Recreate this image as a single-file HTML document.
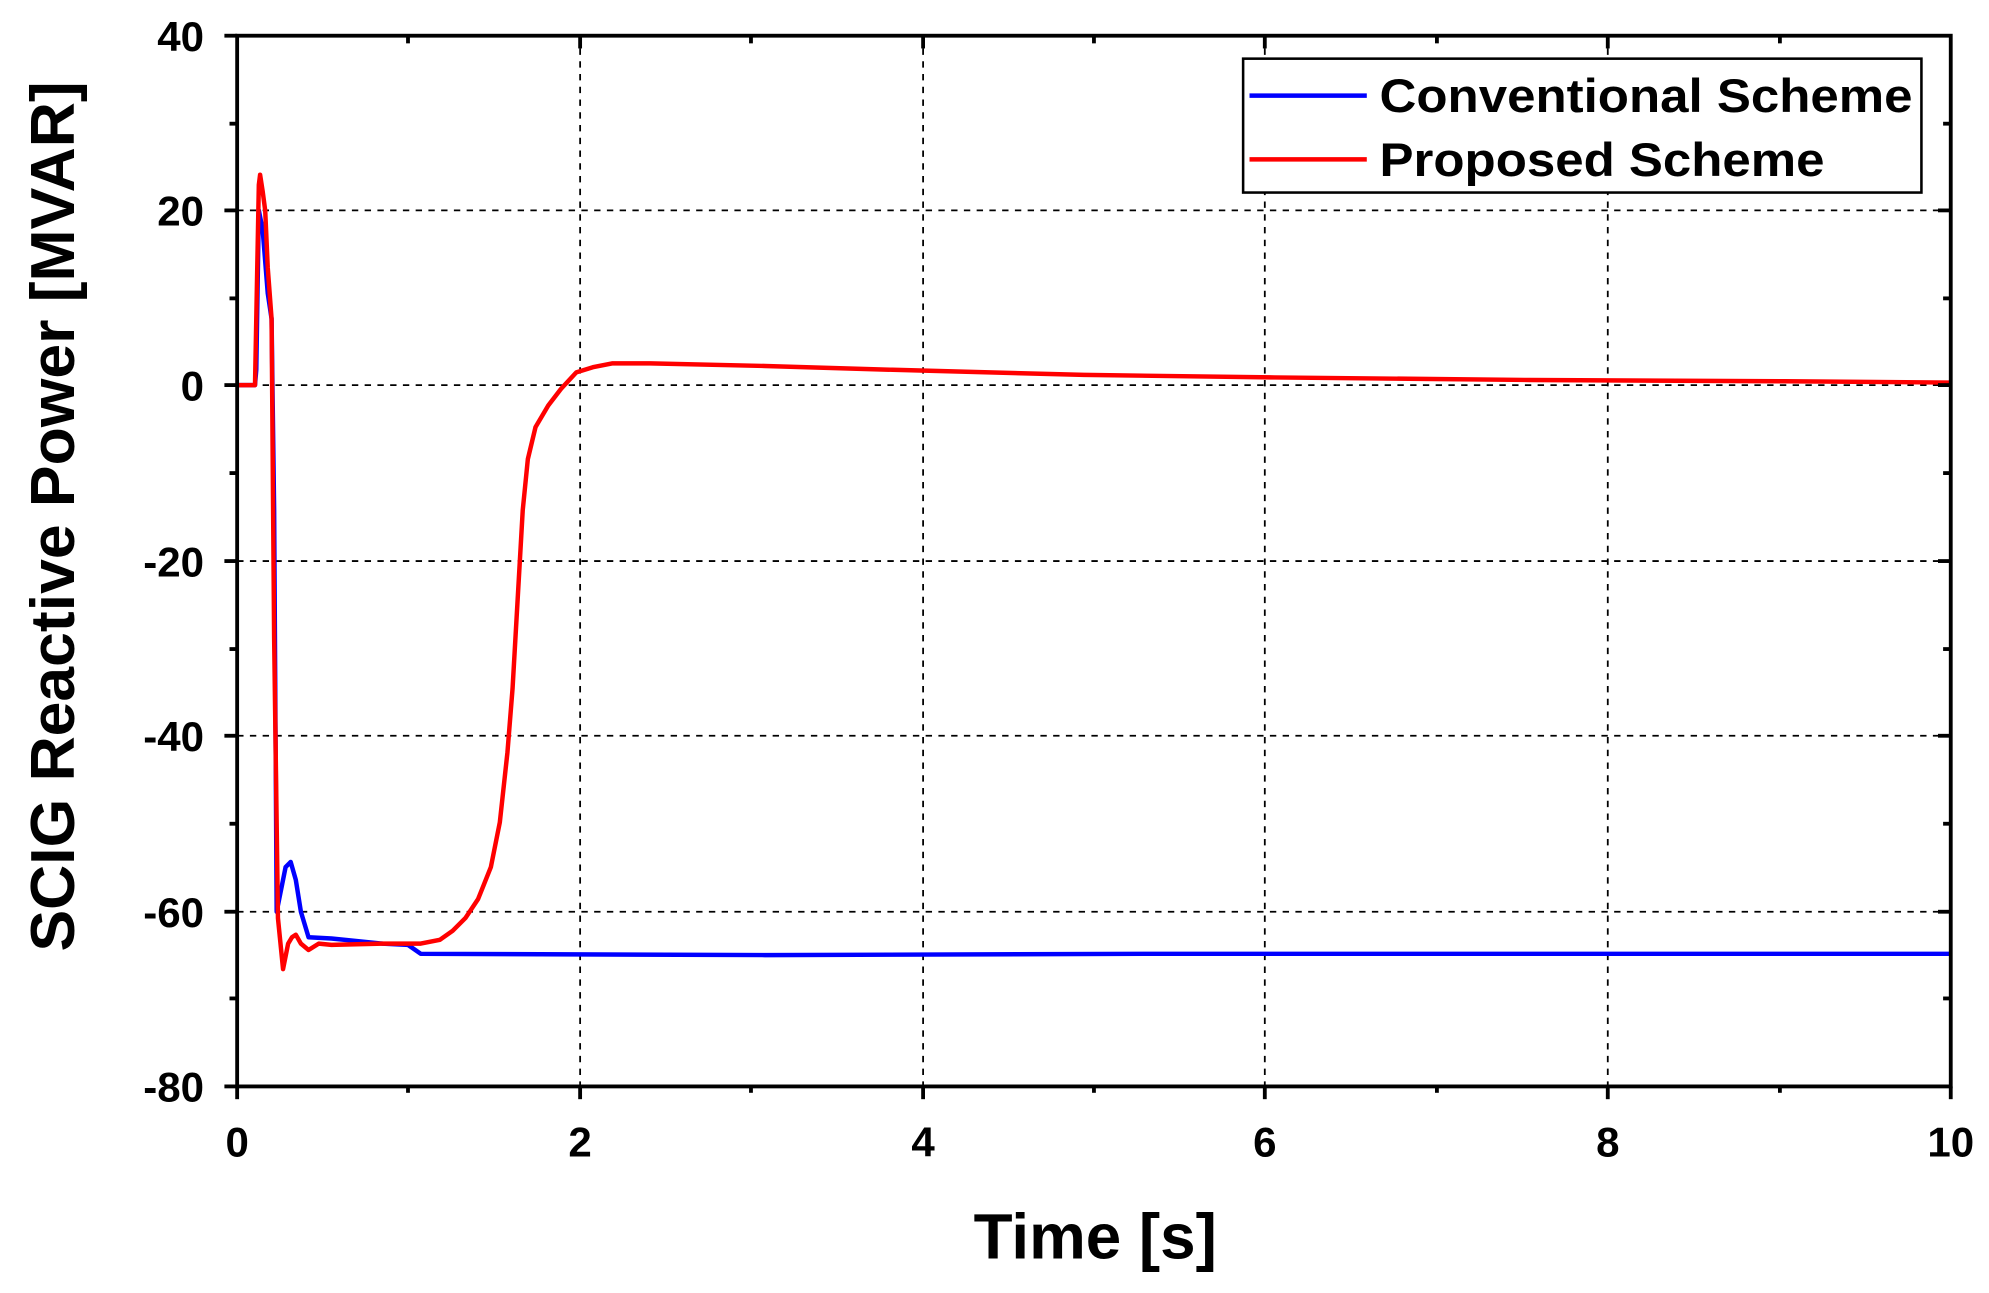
<!DOCTYPE html>
<html><head><meta charset="utf-8"><style>html,body{margin:0;padding:0;background:#fff}svg{display:block}</style></head>
<body>
<svg width="1989" height="1293" viewBox="0 0 1560 1014" preserveAspectRatio="none" xmlns="http://www.w3.org/2000/svg" font-family="Liberation Sans, sans-serif" font-weight="bold">
<g stroke="#000" stroke-width="1.4" stroke-dasharray="5,5">
<line x1="186" y1="165" x2="1530" y2="165"/><line x1="186" y1="302" x2="1530" y2="302"/><line x1="186" y1="440" x2="1530" y2="440"/><line x1="186" y1="577" x2="1530" y2="577"/><line x1="186" y1="715" x2="1530" y2="715"/>
<line x1="455" y1="28" x2="455" y2="852"/><line x1="724" y1="28" x2="724" y2="852"/><line x1="992" y1="28" x2="992" y2="852"/><line x1="1261" y1="28" x2="1261" y2="852"/>
</g>
<g fill="none" stroke-linejoin="round" stroke-width="3.5">
<polyline stroke="#0000ff" points="186,302 200,302 201,290 203,165 206,180 210,230 213,250 215,400 217,715 220,700 224,680 228,676 232,690 236,715 242,735 260,736 300,740 320,741 330,748 600,749 900,748 1200,748 1530,748"/>
<polyline stroke="#ff0000" points="186,302 200,302 201,250 203,145 204,137 206,150 208,165 210,210 213,250 215,500 218,720 222,760 226,740 229,735 232,733 236,740 242,745 250,740 260,741 300,740 330,740 345,737 355,730 365,720 375,705 385,680 392,645 398,590 402,540 406,470 410,400 414,360 420,335 430,318 440,305 452,292 465,288 480,285 510,285 600,287 700,290 850,294 1000,296 1200,298 1400,299 1530,300"/>
</g>
<rect x="186" y="28" width="1344" height="824" fill="none" stroke="#000" stroke-width="3"/>
<g stroke="#000" stroke-width="3">
<line x1="186" y1="852" x2="186" y2="862"/><line x1="455" y1="852" x2="455" y2="862"/><line x1="724" y1="852" x2="724" y2="862"/><line x1="992" y1="852" x2="992" y2="862"/><line x1="1261" y1="852" x2="1261" y2="862"/><line x1="1530" y1="852" x2="1530" y2="862"/>
<line x1="320" y1="852" x2="320" y2="857"/><line x1="589" y1="852" x2="589" y2="857"/><line x1="858" y1="852" x2="858" y2="857"/><line x1="1127" y1="852" x2="1127" y2="857"/><line x1="1396" y1="852" x2="1396" y2="857"/>
<line x1="320" y1="28" x2="320" y2="34"/><line x1="455" y1="28" x2="455" y2="38"/><line x1="589" y1="28" x2="589" y2="34"/><line x1="724" y1="28" x2="724" y2="38"/><line x1="858" y1="28" x2="858" y2="34"/><line x1="992" y1="28" x2="992" y2="38"/><line x1="1127" y1="28" x2="1127" y2="34"/><line x1="1261" y1="28" x2="1261" y2="38"/><line x1="1396" y1="28" x2="1396" y2="34"/>
<line x1="176" y1="28" x2="186" y2="28"/><line x1="176" y1="165" x2="186" y2="165"/><line x1="176" y1="302" x2="186" y2="302"/><line x1="176" y1="440" x2="186" y2="440"/><line x1="176" y1="577" x2="186" y2="577"/><line x1="176" y1="715" x2="186" y2="715"/><line x1="176" y1="852" x2="186" y2="852"/>
<line x1="180" y1="97" x2="186" y2="97"/><line x1="180" y1="234" x2="186" y2="234"/><line x1="180" y1="371" x2="186" y2="371"/><line x1="180" y1="509" x2="186" y2="509"/><line x1="180" y1="646" x2="186" y2="646"/><line x1="180" y1="783" x2="186" y2="783"/>
<line x1="1520" y1="165" x2="1530" y2="165"/><line x1="1520" y1="302" x2="1530" y2="302"/><line x1="1520" y1="440" x2="1530" y2="440"/><line x1="1520" y1="577" x2="1530" y2="577"/><line x1="1520" y1="715" x2="1530" y2="715"/>
<line x1="1524" y1="97" x2="1530" y2="97"/><line x1="1524" y1="234" x2="1530" y2="234"/><line x1="1524" y1="371" x2="1530" y2="371"/><line x1="1524" y1="509" x2="1530" y2="509"/><line x1="1524" y1="646" x2="1530" y2="646"/><line x1="1524" y1="783" x2="1530" y2="783"/>
</g>
<g font-size="33" text-anchor="end">
<text x="160" y="40">40</text><text x="160" y="177">20</text><text x="160" y="314">0</text><text x="160" y="452">-20</text><text x="160" y="589">-40</text><text x="160" y="727">-60</text><text x="160" y="864">-80</text>
</g>
<g font-size="33" text-anchor="middle">
<text x="186" y="907">0</text><text x="455" y="907">2</text><text x="724" y="907">4</text><text x="992" y="907">6</text><text x="1261" y="907">8</text><text x="1530" y="907">10</text>
</g>
<text x="859" y="987" font-size="50" text-anchor="middle">Time [s]</text>
<text transform="translate(58,405) rotate(-90)" font-size="49" text-anchor="middle">SCIG Reactive Power [MVAR]</text>
<rect x="975" y="46" width="532" height="105" fill="#fff" stroke="#000" stroke-width="2"/>
<line x1="980" y1="75" x2="1072" y2="75" stroke="#0000ff" stroke-width="3.5"/>
<line x1="980" y1="125" x2="1072" y2="125" stroke="#ff0000" stroke-width="3.5"/>
<text x="1082" y="88" font-size="37" textLength="418" lengthAdjust="spacingAndGlyphs">Conventional Scheme</text>
<text x="1082" y="138" font-size="37" textLength="349" lengthAdjust="spacingAndGlyphs">Proposed Scheme</text>
</svg>
</body></html>
